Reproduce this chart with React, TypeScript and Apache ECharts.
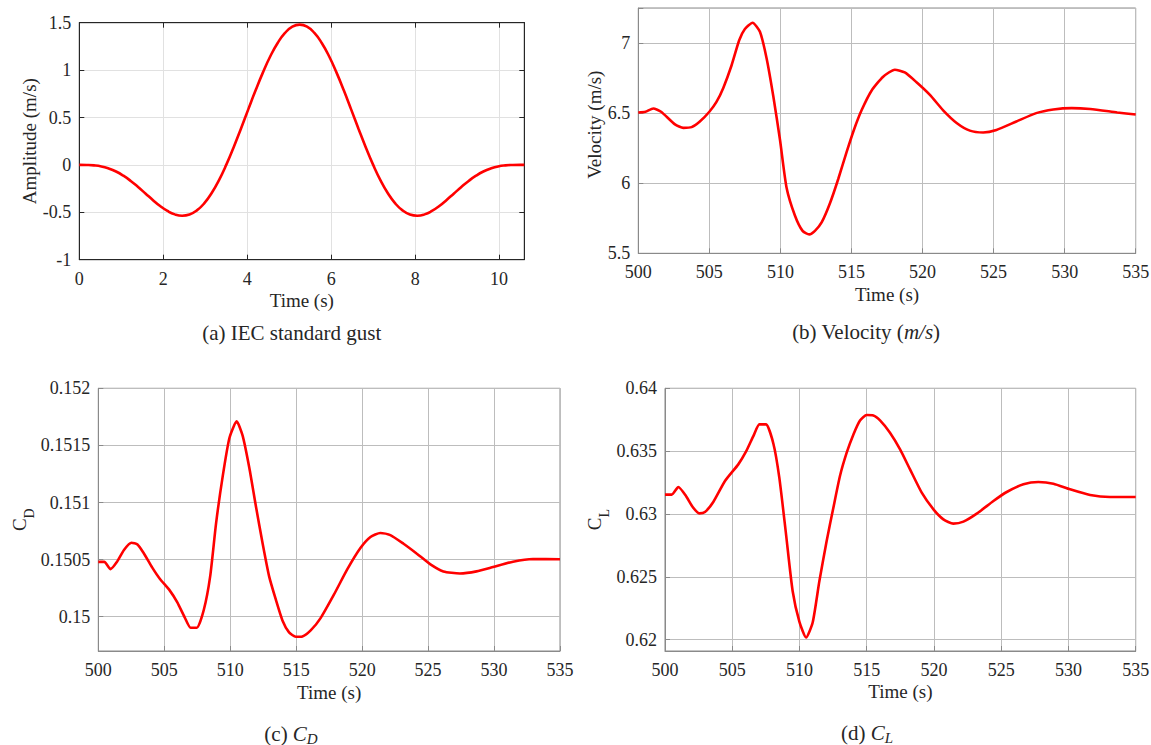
import React, { useEffect, useRef } from 'react';
import * as echarts from 'echarts';

// (a) IEC standard gust
const gustTime = [0, 0.175, 0.35, 0.525, 0.7, 0.875, 1.05, 1.225, 1.4, 1.575, 1.75, 1.925, 2.1, 2.275, 2.45, 2.625, 2.8, 2.975, 3.15, 3.325, 3.5, 3.675, 3.85, 4.025, 4.2, 4.375, 4.55, 4.725, 4.9, 5.075, 5.25, 5.425, 5.6, 5.775, 5.95, 6.125, 6.3, 6.475, 6.65, 6.825, 7.0, 7.175, 7.35, 7.525, 7.7, 7.875, 8.05, 8.225, 8.4, 8.575, 8.75, 8.925, 9.1, 9.275, 9.45, 9.625, 9.8, 9.975, 10.15, 10.325, 10.5, 10.6];
const gustAmp = [0, -0.001, -0.005, -0.016, -0.038, -0.070, -0.114, -0.169, -0.233, -0.301, -0.370, -0.434, -0.486, -0.522, -0.536, -0.523, -0.480, -0.406, -0.299, -0.163, 0, 0.184, 0.382, 0.586, 0.787, 0.976, 1.146, 1.286, 1.392, 1.458, 1.480, 1.458, 1.392, 1.286, 1.146, 0.976, 0.787, 0.586, 0.382, 0.184, 0, -0.163, -0.299, -0.406, -0.480, -0.523, -0.536, -0.522, -0.486, -0.434, -0.370, -0.301, -0.233, -0.169, -0.114, -0.070, -0.038, -0.016, -0.005, -0.001, 0, 0];

// (b) Velocity
const velTime = [500, 500.5, 501.05, 501.6, 502.58, 503.17, 503.75, 504.33, 505.0, 505.5, 505.98, 506.56, 507.1, 507.5, 508.04, 508.56, 509.03, 509.5, 509.97, 510.43, 511.02, 511.56, 512.03, 512.43, 512.9, 513.48, 514.07, 514.65, 515.17, 515.71, 516.41, 517.23, 518.05, 518.75, 519.58, 520.52, 521.45, 522.4, 523.33, 524.27, 525.2, 526.6, 528.0, 529.2, 530.5, 531.8, 533.7, 535];
const velValue = [6.505, 6.51, 6.533, 6.51, 6.42, 6.395, 6.40, 6.44, 6.51, 6.58, 6.68, 6.84, 7.02, 7.10, 7.145, 7.08, 6.89, 6.62, 6.31, 5.97, 5.77, 5.66, 5.635, 5.66, 5.72, 5.855, 6.03, 6.22, 6.38, 6.52, 6.66, 6.76, 6.81, 6.79, 6.72, 6.63, 6.52, 6.43, 6.375, 6.362, 6.38, 6.44, 6.50, 6.526, 6.536, 6.529, 6.505, 6.49];

// (c) CD
const cdTime = [500, 500.45, 500.93, 501.39, 501.96, 502.52, 502.97, 503.47, 504.08, 504.66, 505.41, 505.99, 506.54, 507.0, 507.47, 508.0, 508.48, 508.93, 509.43, 509.94, 510.49, 510.94, 511.45, 511.95, 512.45, 512.95, 513.46, 513.96, 514.46, 514.97, 515.47, 516.1, 516.85, 517.86, 518.86, 519.87, 520.63, 521.38, 522.14, 523.14, 524.15, 525.15, 526.16, 527.41, 528.67, 529.93, 531.44, 532.95, 535];
const cdValue = [0.15048, 0.15048, 0.150417, 0.150476, 0.150587, 0.150648, 0.150633, 0.150552, 0.150432, 0.150333, 0.150231, 0.150126, 0.149997, 0.149904, 0.149904, 0.150061, 0.150353, 0.15082, 0.151229, 0.151565, 0.15171, 0.151585, 0.151302, 0.150966, 0.150645, 0.150353, 0.150149, 0.149968, 0.149863, 0.149825, 0.149828, 0.14988, 0.149988, 0.150193, 0.150412, 0.150601, 0.150698, 0.150733, 0.150715, 0.150639, 0.150552, 0.150461, 0.150397, 0.150379, 0.150397, 0.150435, 0.150482, 0.150505, 0.150503];

// (d) CL
const clTime = [500, 500.5, 500.99, 501.56, 502.06, 502.55, 502.97, 503.59, 504.46, 505.45, 506.02, 506.57, 507.02, 507.51, 508.06, 508.5, 509.0, 509.49, 509.99, 510.49, 510.98, 511.48, 512.02, 512.52, 513.01, 513.51, 514.01, 514.5, 515.0, 515.49, 515.99, 516.73, 517.48, 518.22, 519.09, 519.96, 520.7, 521.44, 522.19, 523.18, 524.42, 525.41, 526.65, 527.76, 528.88, 530.12, 531.61, 533.09, 535];
const clValue = [0.63154, 0.63154, 0.632146, 0.631431, 0.630556, 0.630053, 0.630159, 0.630954, 0.632623, 0.633948, 0.634955, 0.6362, 0.637128, 0.637128, 0.635591, 0.632888, 0.628384, 0.623879, 0.621441, 0.620169, 0.621362, 0.624674, 0.627854, 0.630503, 0.633021, 0.634875, 0.636333, 0.637446, 0.63787, 0.637843, 0.637446, 0.636466, 0.63514, 0.63355, 0.631696, 0.630371, 0.629576, 0.629232, 0.629391, 0.630026, 0.631033, 0.631749, 0.632358, 0.632544, 0.632411, 0.631961, 0.63151, 0.631351, 0.631351];

const xTitle = 'Time (s)';
const captions = ['(a) IEC standard gust', '(b) Velocity ({i|m/s})', '(c) {i|C}{s|D}', '(d) {i|C}{s|L}'];
const yTitles = ['Amplitude (m/s)', 'Velocity (m/s)', '{c|C}{s|D}', '{c|C}{s|L}'];

const FONT = 'Liberation Serif, DejaVu Serif, serif';
const TEXT = '#262626';

function onStep(step: number) {
  return (v: number) => {
    const r = v / step;
    return Math.abs(r - Math.round(r)) < 1e-6 ? String(+v.toFixed(6)) : '';
  };
}

type Panel = {
  grid: { left: number; top: number; width: number; height: number };
  x: number[]; y: number[]; smooth: number | boolean;
  xMin: number; xMax: number; xStep: number;
  yMin: number; yMax: number; yStep: number; yUseInterval: boolean;
  axisColor: string; gridColor: string;
  yName: string; yNameGap: number; yNamePad: number[];
  xNameGap: number;
  caption: string; capX: number; capY: number;
  boxTicks: boolean;
};

const panels: Panel[] = [
  {
    grid: { left: 79.3, top: 22.7, width: 445, height: 237 },
    x: gustTime, y: gustAmp, smooth: true,
    xMin: 0, xMax: 10.6, xStep: 2, yMin: -1, yMax: 1.5, yStep: 0.5, yUseInterval: true,
    axisColor: '#262626', gridColor: '#e1e1e1',
    yName: yTitles[0], yNameGap: 39, yNamePad: [0, 0, 0, 0], xNameGap: 31,
    caption: captions[0], capX: 291.7, capY: 333, boxTicks: true,
  },
  {
    grid: { left: 638.3, top: 8, width: 497.4, height: 245.3 },
    x: velTime, y: velValue, smooth: 0.2,
    xMin: 500, xMax: 535, xStep: 5, yMin: 5.5, yMax: 7.25, yStep: 0.5, yUseInterval: true,
    axisColor: '#8a8a8a', gridColor: '#bdbdbd',
    yName: yTitles[1], yNameGap: 33, yNamePad: [0, 0, 0, 12], xNameGap: 32,
    caption: captions[1], capX: 866, capY: 332, boxTicks: false,
  },
  {
    grid: { left: 98.3, top: 388.3, width: 461.7, height: 262.7 },
    x: cdTime, y: cdValue, smooth: 0.2,
    xMin: 500, xMax: 535, xStep: 5, yMin: 0.1497, yMax: 0.152, yStep: 0.0005, yUseInterval: false,
    axisColor: '#8a8a8a', gridColor: '#bdbdbd',
    yName: yTitles[2], yNameGap: 62, yNamePad: [0, 0, 0, 0], xNameGap: 31.5,
    caption: captions[2], capX: 291, capY: 734, boxTicks: false,
  },
  {
    grid: { left: 665, top: 388.3, width: 470.7, height: 262.7 },
    x: clTime, y: clValue, smooth: 0.2,
    xMin: 500, xMax: 535, xStep: 5, yMin: 0.6191, yMax: 0.64, yStep: 0.005, yUseInterval: false,
    axisColor: '#8a8a8a', gridColor: '#bdbdbd',
    yName: yTitles[3], yNameGap: 54, yNamePad: [0, 0, 0, 0], xNameGap: 31,
    caption: captions[3], capX: 867, capY: 733, boxTicks: false,
  },
];

export default function App() {
  const ref = useRef<HTMLDivElement>(null);
  useEffect(() => {
    if (!ref.current) return;
    const chart = echarts.init(ref.current, undefined, { renderer: 'svg' });
    const grids: any[] = [];
    const xAxes: any[] = [];
    const yAxes: any[] = [];
    const series: any[] = [];
    const graphics: any[] = [];
    const labelStyle = { fontFamily: FONT, fontSize: 18, color: TEXT };
    const nameStyle = { fontFamily: FONT, fontSize: 19, color: TEXT };

    panels.forEach((p, i) => {
      grids.push({
        ...p.grid, show: true, borderColor: p.axisColor, borderWidth: 1,
        backgroundColor: '#ffffff', outerBoundsMode: 'none', containLabel: false,
      });
      const xIdx = xAxes.length;
      xAxes.push({
        type: 'value', gridIndex: i, position: 'bottom',
        min: p.xMin, max: p.xMax, interval: p.xStep,
        axisLine: { show: true, onZero: false, lineStyle: { color: p.axisColor, width: 1 } },
        axisTick: { show: true, inside: true, length: 5, lineStyle: { color: p.axisColor } },
        axisLabel: { ...labelStyle, margin: 10, formatter: onStep(p.xStep), showMaxLabel: true },
        splitLine: { show: true, lineStyle: { color: p.gridColor, width: 1 } },
        name: xTitle, nameLocation: 'middle', nameGap: p.xNameGap, nameTextStyle: nameStyle,
      });
      const yIdx = yAxes.length;
      const yAxis: any = {
        type: 'value', gridIndex: i, position: 'left',
        min: p.yMin, max: p.yMax,
        axisLine: { show: true, onZero: false, lineStyle: { color: p.axisColor, width: 1 } },
        axisTick: { show: true, inside: true, length: 5, lineStyle: { color: p.axisColor } },
        axisLabel: { ...labelStyle, margin: 8, formatter: onStep(p.yStep) },
        splitLine: { show: true, lineStyle: { color: p.gridColor, width: 1 } },
        name: p.yName, nameLocation: 'middle', nameGap: p.yNameGap,
        nameTextStyle: {
          ...nameStyle, padding: p.yNamePad,
          rich: {
            c: { fontFamily: FONT, fontSize: 19, color: TEXT },
            s: { fontFamily: FONT, fontSize: 14, color: TEXT, padding: [19, 0, 0, 0] },
          },
        },
      };
      if (p.yUseInterval) yAxis.interval = p.yStep; else yAxis.splitNumber = 5;
      yAxes.push(yAxis);
      if (p.boxTicks) {
        xAxes.push({
          type: 'value', gridIndex: i, position: 'top',
          min: p.xMin, max: p.xMax, interval: p.xStep,
          axisLine: { show: true, onZero: false, lineStyle: { color: p.axisColor, width: 1 } },
          axisTick: { show: true, inside: true, length: 5, lineStyle: { color: p.axisColor } },
          axisLabel: { show: false }, splitLine: { show: false },
        });
        yAxes.push({
          type: 'value', gridIndex: i, position: 'right',
          min: p.yMin, max: p.yMax, interval: p.yStep,
          axisLine: { show: true, onZero: false, lineStyle: { color: p.axisColor, width: 1 } },
          axisTick: { show: true, inside: true, length: 5, lineStyle: { color: p.axisColor } },
          axisLabel: { show: false }, splitLine: { show: false },
        });
      }
      series.push({
        type: 'line', xAxisIndex: xIdx, yAxisIndex: yIdx,
        data: p.x.map((t, k) => [t, p.y[k]]),
        showSymbol: false, symbol: 'none', smooth: p.smooth,
        lineStyle: { color: '#ff0000', width: 2.6 },
        z: 5,
      });
      graphics.push({
        type: 'text', x: p.capX, y: p.capY, z: 10,
        style: {
          text: p.caption, align: 'center', verticalAlign: 'middle',
          fontFamily: FONT, fontSize: 21, fill: TEXT,
          rich: {
            i: { fontFamily: FONT, fontSize: 21, fontStyle: 'italic', fill: TEXT },
            s: { fontFamily: FONT, fontSize: 15, fontStyle: 'italic', fill: TEXT, padding: [9, 0, 0, 0] },
          },
        },
      });
    });

    chart.setOption({
      animation: false,
      backgroundColor: '#ffffff',
      textStyle: { fontFamily: FONT },
      grid: grids,
      xAxis: xAxes,
      yAxis: yAxes,
      series,
      graphic: graphics,
    });
    return () => chart.dispose();
  }, []);
  return (
    <div
      ref={ref}
      style={{ position: 'absolute', left: 0, top: 0, width: 1151, height: 745, background: '#fff' }}
    />
  );
}
